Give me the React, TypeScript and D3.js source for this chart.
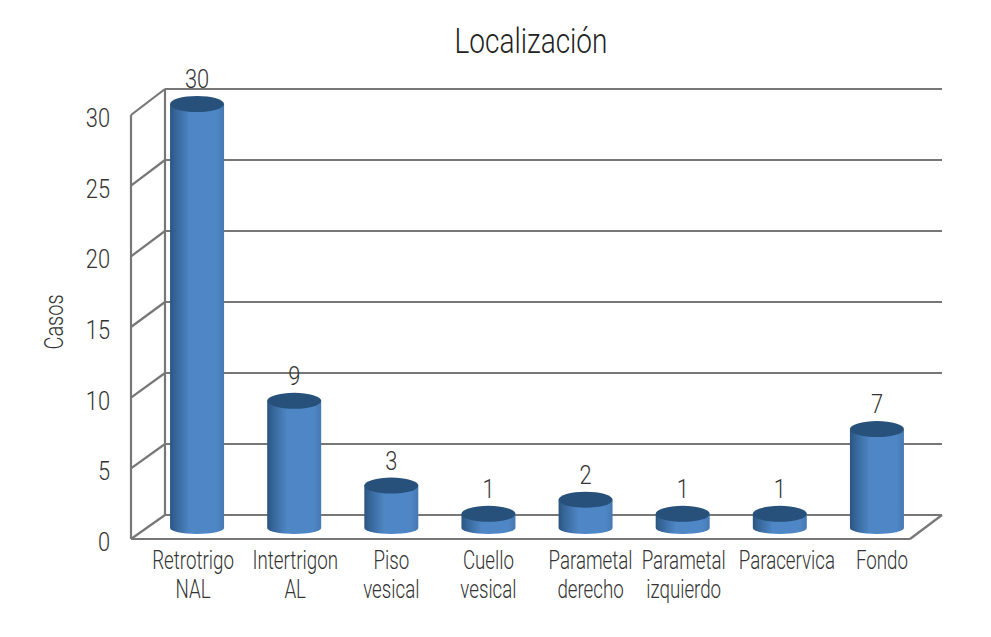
import * as d3 from 'd3';

const categoryLines = [
  ['Retrotrigo', 'NAL'],
  ['Intertrigon', 'AL'],
  ['Piso', 'vesical'],
  ['Cuello', 'vesical'],
  ['Parametal', 'derecho'],
  ['Parametal', 'izquierdo'],
  ['Paracervica'],
  ['Fondo'],
];
const cases = [30, 9, 3, 1, 2, 1, 1, 7];
const yTicks = [0, 5, 10, 15, 20, 25, 30];

const font = 'Roboto, "Liberation Sans", sans-serif';
const textColor = '#333333';
const lineColor = '#777777';

const width = 991;
const height = 637;
const barWidth = 54;

// the labels in the original do not sit exactly under their bars
const labelNudge = [-4, 1, 0, 0, 5, 1, 7, 5];

// front plane and back wall of the 3D box
const yFront = d3.scaleLinear().domain([0, 30]).range([539, 115]);
const yBack = d3.scaleLinear().domain([0, 30]).range([515, 89]);
// bars stand on the middle of the floor
const yBar = d3.scaleLinear().domain([0, 30]).range([528, 104]);
const x = d3
  .scaleBand<number>()
  .domain(d3.range(cases.length))
  .range([148.5, 925.5]);

const frontLeft = 131;
const frontRight = 910;
const backLeft = 165;
const backRight = 942;

// the original type is a light condensed face, so squeeze the text horizontally
const Narrow = ({ x, y, size, anchor = 'middle', sx = 0.76, fill = textColor, children }: any) => (
  <text
    transform={`translate(${x},${y}) scale(${sx},1)`}
    textAnchor={anchor}
    fontSize={size}
    fontWeight={300}
    fill={fill}
  >
    {children}
  </text>
);

export default function App() {
  return (
    <svg
      width={width}
      height={height}
      style={{ position: 'absolute', left: 0, top: 0, background: '#fff' }}
      fontFamily={font}
    >
      <defs>
        <linearGradient id="cyl" x1="0" x2="1" y1="0" y2="0">
          <stop offset="0" stopColor="#2c5580" />
          <stop offset="0.12" stopColor="#37689c" />
          <stop offset="0.38" stopColor="#4f87c6" />
          <stop offset="0.85" stopColor="#4f87c6" />
          <stop offset="1" stopColor="#4779b2" />
        </linearGradient>
      </defs>

      <Narrow x={531} y={53} size={35} sx={0.8} fill="#222">
        Localización
      </Narrow>

      {/* walls and floor */}
      <g stroke={lineColor} strokeWidth={2.2} fill="none">
        {yTicks.map((t) => (
          <g key={t}>
            <line x1={frontLeft} x2={backLeft} y1={yFront(t)} y2={yBack(t)} />
            <line x1={backLeft} x2={backRight} y1={yBack(t)} y2={yBack(t)} />
          </g>
        ))}
        <line x1={frontLeft} x2={frontLeft} y1={yFront(30)} y2={yFront(0)} />
        <line x1={backLeft} x2={backLeft} y1={yBack(30)} y2={yBack(0)} />
        <line x1={frontLeft} x2={frontRight} y1={yFront(0)} y2={yFront(0)} />
        <line x1={frontRight} x2={backRight} y1={yFront(0)} y2={yBack(0)} />
      </g>

      {yTicks.map((t) => (
        <Narrow key={t} x={110} y={yFront(t) + 12} size={26} anchor="end" sx={0.84}>
          {t}
        </Narrow>
      ))}

      <text
        transform="translate(63,322) rotate(-90) scale(0.8,1)"
        textAnchor="middle"
        fontSize={25}
        fontWeight={300}
        fill={textColor}
      >
        Casos
      </text>

      {/* cylinders */}
      {cases.map((v, i) => {
        const cx = x(i)! + x.bandwidth() / 2;
        const rx = barWidth / 2;
        const base = yBar(0);
        const top = yBar(v);
        const body = `M${cx - rx},${top} L${cx - rx},${base} A${rx},6 0 0 0 ${cx + rx},${base} L${cx + rx},${top} Z`;
        return (
          <g key={i}>
            <path d={body} fill="url(#cyl)" />
            <ellipse cx={cx} cy={top} rx={rx} ry={8} fill="#27517a" />
            <Narrow x={cx} y={top - 16} size={26} sx={0.84}>
              {v}
            </Narrow>
          </g>
        );
      })}

      {/* category labels */}
      {categoryLines.map((lines, i) =>
        lines.map((l, j) => (
          <Narrow
            key={l + i}
            x={x(i)! + x.bandwidth() / 2 + labelNudge[i]}
            y={569 + j * 29}
            size={25}
            sx={0.75}
          >
            {l}
          </Narrow>
        ))
      )}
    </svg>
  );
}
